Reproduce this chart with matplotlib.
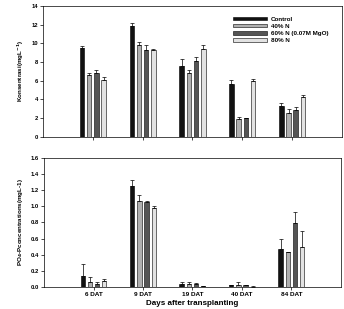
import matplotlib
matplotlib.use("Agg")
import matplotlib.pyplot as plt
import numpy as np

plt.rcParams['font.family'] = ['Liberation Sans', 'DejaVu Sans']
plt.rcParams['font.weight'] = 'bold'

categories = ["6 DAT", "9 DAT", "19 DAT", "40 DAT", "84 DAT"]
series_names = ["Control", "40% N", "60% N (0.07M MgO)", "80% N"]
colors = ["#111111", "#b0b0b0", "#555555", "#e2e2e2"]

top_values = [
    [9.5, 11.9, 7.6, 5.7, 3.3],
    [6.6, 9.8, 6.8, 1.9, 2.6],
    [6.8, 9.3, 8.1, 2.0, 2.9],
    [6.1, 9.3, 9.4, 6.0, 4.3],
]
top_errors = [
    [0.2, 0.3, 0.7, 0.4, 0.3],
    [0.2, 0.3, 0.3, 0.2, 0.4],
    [0.3, 0.5, 0.4, 0.05, 0.3],
    [0.3, 0.05, 0.4, 0.2, 0.2],
]
bot_values = [
    [0.14, 1.25, 0.04, 0.025, 0.47],
    [0.06, 1.06, 0.04, 0.02, 0.43],
    [0.04, 1.05, 0.04, 0.02, 0.79],
    [0.08, 0.98, 0.01, 0.005, 0.50],
]
bot_errors = [
    [0.15, 0.08, 0.02, 0.005, 0.13],
    [0.07, 0.08, 0.02, 0.04, 0.01],
    [0.02, 0.01, 0.005, 0.005, 0.14],
    [0.02, 0.02, 0.005, 0.005, 0.20],
]

fig = plt.figure(figsize=(3.44, 3.09), dpi=100)
ax1 = fig.add_axes([0.125, 0.557, 0.869, 0.424])
ax2 = fig.add_axes([0.128, 0.071, 0.863, 0.418])

x = np.arange(1, len(categories) + 1)
width = 0.09
offsets = np.array([-1.5, -0.5, 0.5, 1.5]) * 0.145

def draw(ax, values, errors):
    for i in range(4):
        ax.bar(x + offsets[i], values[i], width, color=colors[i], edgecolor="black",
               linewidth=0.4, label=series_names[i])
        ax.errorbar(x + offsets[i], values[i], yerr=[np.zeros(5), errors[i]], fmt='none',
                    ecolor="black", elinewidth=0.5, capsize=1.5, capthick=0.5)
    ax.set_xlim(0, 6)
    ax.set_xticks(x)
    for s in ax.spines.values():
        s.set_linewidth(0.5)
    ax.tick_params(labelsize=4.2, width=0.5, length=2, pad=1.5)

draw(ax1, top_values, top_errors)
ax1.set_ylim(0, 14)
ax1.set_yticks(np.arange(0, 15, 2))
ax1.set_xticklabels([])
ax1.set_ylabel("Konsentrasi(mgL$^{-1}$)", fontsize=4.5, fontweight='bold', labelpad=4)
ax1.legend(loc="upper right", bbox_to_anchor=(0.975, 0.96), frameon=False, fontsize=4.5,
           handlelength=5.5, handleheight=0.5, labelspacing=0.35, handletextpad=0.6)

draw(ax2, bot_values, bot_errors)
ax2.set_ylim(0, 1.6)
ax2.set_yticks(np.arange(0, 1.61, 0.2))
ax2.set_yticklabels([f"{v:.1f}" for v in np.arange(0, 1.61, 0.2)])
ax2.set_xticklabels(categories)
ax2.tick_params(axis='x', labelsize=4.6)
ax2.set_ylabel("PO$_4$-Pconcentrations(mgL-1)", fontsize=4.5, fontweight='bold', labelpad=4)
ax2.set_xlabel("Days after transplanting", fontsize=5.8, fontweight='bold', labelpad=2)

fig.savefig("out.png", dpi=100)
